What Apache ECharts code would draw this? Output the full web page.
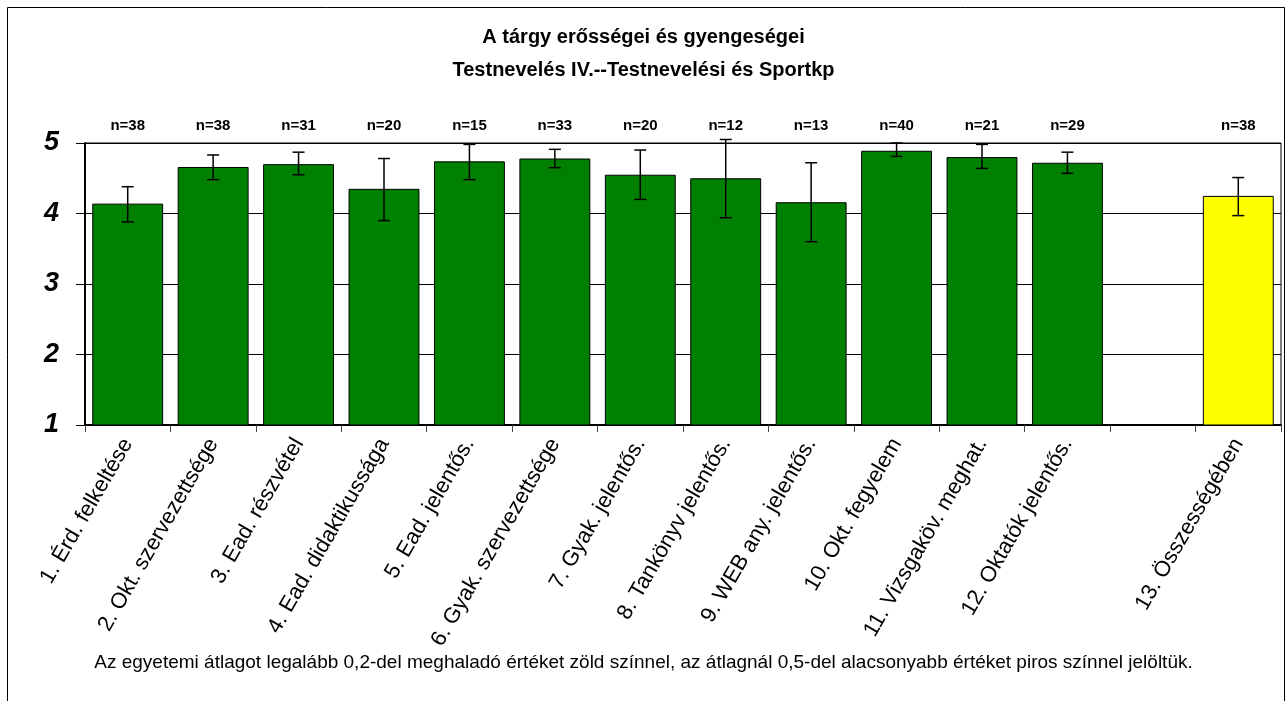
<!DOCTYPE html>
<html>
<head>
<meta charset="utf-8">
<script src="https://cdn.jsdelivr.net/npm/echarts@6/dist/echarts.min.js"></script>
<style>
html,body{margin:0;padding:0;background:#fff;}
#chart{width:1287px;height:701px;}
</style>
</head>
<body>
<div id="chart"></div>
<script>
const categories = ['1. Érd. felkeltése','2. Okt. szervezettsége','3. Ead. részvétel','4. Ead. didaktikussága','5. Ead. jelentős.','6. Gyak. szervezettsége','7. Gyak. jelentős.','8. Tankönyv jelentős.','9. WEB any. jelentős.','10. Okt. fegyelem','11. Vizsgaköv. meghat.','12. Oktatók jelentős.','','13. Összességében'];
const means = [4.14, 4.66, 4.70, 4.35, 4.74, 4.78, 4.55, 4.50, 4.16, 4.89, 4.80, 4.72, null, 4.25];
const lows  = [3.88, 4.48, 4.55, 3.90, 4.48, 4.65, 4.20, 3.94, 3.60, 4.81, 4.64, 4.57, null, 3.97];
const highs = [4.38, 4.83, 4.87, 4.78, 4.98, 4.91, 4.90, 5.05, 4.72, 5.00, 4.98, 4.87, null, 4.51];
const counts = [38, 38, 31, 20, 15, 33, 20, 12, 13, 40, 21, 29, null, 38];
const yTicks = [1, 2, 3, 4, 5];
const titleLines = ['A tárgy erősségei és gyengeségei', 'Testnevelés IV.--Testnevelési és Sportkp'];
const footnote = 'Az egyetemi átlagot legalább 0,2-del meghaladó értéket zöld színnel, az átlagnál 0,5-del alacsonyabb értéket piros színnel jelöltük.';

const FONT = '"Liberation Sans", Arial, sans-serif';
const nLabels = counts.map(c => c == null ? '' : 'n=' + c);
const errData = categories.map((c, i) => [i, lows[i], highs[i]]).filter(d => d[1] != null);

const chart = echarts.init(document.getElementById('chart'));
chart.setOption({
  animation: false,
  backgroundColor: '#fff',
  title: {
    text: titleLines.join('\n'),
    left: 'center',
    top: 16,
    textStyle: { fontFamily: FONT, fontSize: 20, fontWeight: 'bold', color: '#000', lineHeight: 33 }
  },
  graphic: [
    { type: 'rect', shape: { x: 7.5, y: 7.5, width: 1277, height: 720 }, style: { fill: null, stroke: '#000', lineWidth: 1 }, silent: true },
    { type: 'text', left: 'center', top: 653, style: { text: footnote, font: '19px ' + FONT, fill: '#000' } }
  ],
  grid: { left: 85, right: 6, top: 143, bottom: 276, show: true, borderColor: '#000', borderWidth: 1, backgroundColor: 'transparent' },
  xAxis: [
    {
      type: 'category', data: categories, position: 'bottom',
      axisLine: { show: true, lineStyle: { color: '#000', width: 2 } },
      axisTick: { show: true, length: 7, lineStyle: { color: '#444', width: 1 } },
      axisLabel: { rotate: 60, fontFamily: FONT, fontSize: 22, color: '#000', margin: 15, interval: 0 },
      splitLine: { show: false }
    },
    {
      type: 'category', data: nLabels, position: 'top',
      axisLine: { show: false }, axisTick: { show: false },
      axisLabel: { fontFamily: FONT, fontSize: 15, fontWeight: 'bold', color: '#000', margin: 10, interval: 0 }
    }
  ],
  yAxis: {
    type: 'value', min: yTicks[0], max: yTicks[yTicks.length - 1], interval: 1,
    axisLine: { show: true, lineStyle: { color: '#000', width: 2 } },
    axisTick: { show: true, length: 9, lineStyle: { color: '#000', width: 1 } },
    axisLabel: { fontFamily: FONT, fontSize: 27, fontWeight: 'bold', fontStyle: 'italic', color: '#000', margin: 26 },
    splitLine: { show: true, lineStyle: { color: '#000', width: 1 } }
  },
  series: [
    {
      type: 'bar', data: means, xAxisIndex: 0, barCategoryGap: '17%',
      itemStyle: {
        color: p => p.dataIndex === categories.length - 1 ? '#FFFF00' : '#008000',
        borderColor: '#000', borderWidth: 1
      }
    },
    {
      type: 'custom', xAxisIndex: 0, data: errData, clip: false, z: 5,
      renderItem: (params, api) => {
        const x = api.value(0);
        const lo = api.coord([x, api.value(1)]);
        const hi = api.coord([x, api.value(2)]);
        const w = 6;
        const st = { stroke: '#000', lineWidth: 1.5 };
        return {
          type: 'group', children: [
            { type: 'line', shape: { x1: lo[0], y1: lo[1], x2: hi[0], y2: hi[1] }, style: st },
            { type: 'line', shape: { x1: lo[0] - w, y1: lo[1], x2: lo[0] + w, y2: lo[1] }, style: st },
            { type: 'line', shape: { x1: hi[0] - w, y1: hi[1], x2: hi[0] + w, y2: hi[1] }, style: st }
          ]
        };
      }
    }
  ]
});
</script>
</body>
</html>
